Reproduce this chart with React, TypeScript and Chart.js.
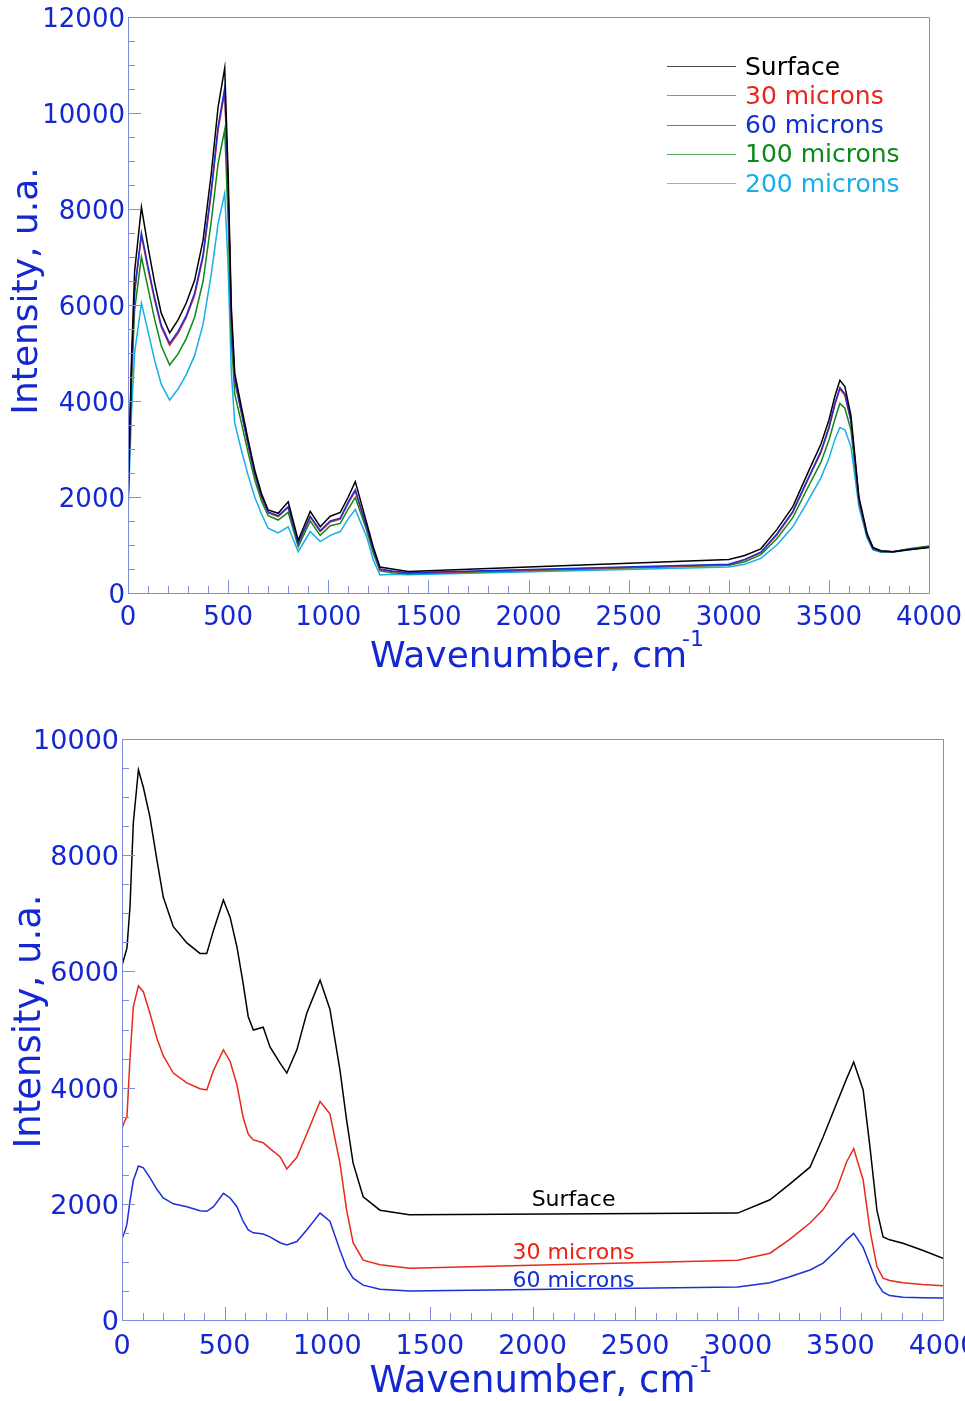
import React, { useEffect, useRef } from 'react';
import { Chart, registerables } from 'chart.js';

Chart.register(...registerables);

const FONT = '"DejaVu Sans", "Liberation Sans", sans-serif';
const AXIS_TEXT = '#1428d2';
const FRAME = '#7f8ce0';

const COLORS = {
  surface: '#000000',
  m30: '#e8281c',
  m60: '#1c2fd6',
  m100: '#0b8a18',
  m200: '#18aee8',
};

// ---- Upper panel: five depths, wavenumber (cm-1) vs intensity ----
const TOP_X = [
  0, 17, 33, 67, 100, 133, 166, 208, 250, 291, 333, 375, 416, 450, 483, 500, 516, 533, 566, 600,
  633, 666, 700, 750, 800, 850, 910, 960, 1010, 1060, 1100, 1135, 1192, 1225, 1258, 1320, 1400,
  3000, 3080, 3160, 3240, 3320, 3400, 3460, 3500, 3530, 3555, 3580, 3610, 3650, 3690, 3720, 3760, 3820, 3900, 4000,
];
const TOP_SURFACE = [
  1900, 4800, 6700, 8040, 7210, 6460, 5830, 5420, 5690, 6040, 6520, 7350, 8750, 10130, 10940, 8750, 5960, 4580, 3880, 3190,
  2560, 2080, 1730, 1660, 1900, 1100, 1700, 1380, 1600, 1680, 2000, 2320, 1460, 960, 540, 500, 450,
  700, 780, 920, 1320, 1800, 2550, 3100, 3600, 4100, 4430, 4300, 3700, 2000, 1250, 950, 880, 860, 900, 950,
];
const TOP_30 = [
  1820, 4550, 6250, 7440, 6750, 6100, 5540, 5160, 5410, 5740, 6200, 7000, 8340, 9650, 10440, 8400, 5710, 4420, 3760, 3080,
  2470, 2000, 1670, 1590, 1780, 1030, 1580, 1280, 1480, 1540, 1870, 2120, 1360, 890, 490, 450, 410,
  590, 690, 840, 1210, 1680, 2400, 2920, 3420, 3920, 4250, 4120, 3580, 1940, 1210, 930, 870, 860, 910, 960,
];
const TOP_60 = [
  1850, 4600, 6300, 7500, 6800, 6150, 5580, 5200, 5450, 5780, 6250, 7050, 8400, 9720, 10520, 8450, 5750, 4450, 3780, 3100,
  2490, 2020, 1690, 1610, 1800, 1040, 1600, 1300, 1500, 1560, 1900, 2150, 1380, 900, 500, 460, 420,
  600, 700, 850, 1230, 1700, 2420, 2950, 3450, 3950, 4280, 4150, 3600, 1950, 1220, 930, 870, 860, 910, 960,
];
const TOP_100 = [
  1800, 4300, 5900, 7000, 6350, 5700, 5150, 4750, 4980, 5300, 5750, 6500, 7750, 8950, 9650, 7800, 5300, 4150, 3550, 2920,
  2360, 1920, 1610, 1520, 1680, 960, 1500, 1200, 1400, 1450, 1750, 1990, 1300, 830, 460, 420, 400,
  580, 650, 800, 1130, 1570, 2240, 2720, 3180, 3620, 3950, 3850, 3400, 1900, 1200, 920, 860, 860, 920, 980,
];
const TOP_200 = [
  1700, 3700, 5000, 6040, 5450, 4850, 4350, 4020, 4250, 4550, 4950, 5600, 6650, 7700, 8330, 6800, 4600, 3540, 2980, 2450,
  2000, 1650, 1350, 1250, 1380, 860, 1280, 1070, 1200, 1280, 1550, 1740, 1170, 690, 375, 390, 380,
  540, 600, 720, 1000, 1380, 1950, 2400, 2800, 3200, 3450, 3400, 3050, 1800, 1150, 900, 850, 850, 900, 960,
];
const TOP_X_TICKS = [0, 500, 1000, 1500, 2000, 2500, 3000, 3500, 4000];
const TOP_Y_TICKS = [0, 2000, 4000, 6000, 8000, 10000, 12000];

// ---- Lower panel: three depths ----
const BOT_X = [
  0, 16, 24, 39, 55, 80, 104, 136, 170, 201, 250, 316, 380, 413, 446, 494, 527, 560, 590, 615,
  640, 688, 721, 770, 803, 852, 900, 965, 1013, 1062, 1094, 1126, 1175, 1257, 1400,
  3000, 3157, 3250, 3352, 3416, 3482, 3530, 3565, 3611, 3644, 3678, 3708, 3740, 3805, 3900, 4000,
];
const BOT_SURFACE = [
  6100, 6300, 6400, 7110, 8550, 9470, 9170, 8660, 7920, 7280, 6770, 6490, 6310, 6310, 6710, 7230, 6930, 6420, 5800, 5220,
  4990, 5040, 4700, 4420, 4250, 4650, 5280, 5850, 5350, 4300, 3450, 2700, 2120, 1890, 1810,
  1840, 2070, 2330, 2630, 3150, 3730, 4150, 4440, 3960, 2980, 1890, 1430, 1380, 1320, 1200, 1060,
];
const BOT_30 = [
  3300, 3450, 3490, 4500, 5390, 5750, 5650, 5280, 4850, 4550, 4250, 4080, 3980, 3960, 4300, 4650, 4450, 4050, 3490, 3200,
  3100, 3050, 2950, 2810, 2600, 2800, 3200, 3760, 3550, 2700, 1900, 1330, 1030, 950, 890,
  1030, 1150, 1380, 1670, 1900, 2250, 2720, 2950, 2410, 1550, 920, 720, 680, 640, 610, 590,
];
const BOT_60 = [
  1400, 1550, 1650, 2050, 2400, 2650, 2620, 2450, 2250, 2100, 2000, 1950, 1880, 1870, 1950, 2180, 2100, 1950, 1700, 1550,
  1500, 1480, 1430, 1330, 1290, 1350, 1550, 1840, 1700, 1200, 900, 720, 600, 530, 500,
  570, 640, 740, 860, 980, 1200, 1380, 1490, 1250, 950, 640, 480, 420, 390, 385, 380,
];
const BOT_X_TICKS = [0, 500, 1000, 1500, 2000, 2500, 3000, 3500, 4000];
const BOT_Y_TICKS = [0, 2000, 4000, 6000, 8000, 10000];
// Inline series names: [label, wavenumber, intensity]
const BOT_LABELS: [string, number, number][] = [
  ['Surface', 2200, 2065],
  ['30 microns', 2200, 1153],
  ['60 microns', 2200, 671],
];

type Series = { label: string; values: number[]; color: string; order: number };
type Panel = {
  x: number[];
  series: Series[];
  xTicks: number[];
  yTicks: number[];
  yMax: number;
  top: number;
  right: number;
  yAxisWidth: number;
  xAxisHeight: number;
  tickSize: number;
  xTickPad: number;
  titleSize: number;
  yTitleX: number;
  yTitleShift: number;
  xTitleBaseline: number;
  supSize: number;
  supRise: number;
  lineWidth: number;
  extra: any;
};

// Frame, inward tick marks and axis titles
function axesPlugin(p: Panel) {
  return {
    id: 'axesFrame',
    afterDatasetsDraw(chart: any) {
      const { ctx, chartArea: a, scales } = chart;
      const xs = scales.x;
      const ys = scales.y;
      ctx.save();
      ctx.strokeStyle = FRAME;
      ctx.lineWidth = 1;
      ctx.beginPath();
      ctx.rect(Math.round(a.left) + 0.5, Math.round(a.top) + 0.5, Math.round(a.right - a.left), Math.round(a.bottom - a.top));
      for (let v = 0; v <= 4000; v += 100) {
        const px = Math.round(xs.getPixelForValue(v)) + 0.5;
        const len = v % 500 === 0 ? 13 : 7;
        ctx.moveTo(px, a.bottom);
        ctx.lineTo(px, a.bottom - len);
      }
      for (let v = 0; v <= p.yMax; v += 500) {
        const py = Math.round(ys.getPixelForValue(v)) + 0.5;
        const len = v % 2000 === 0 ? 13 : 7;
        ctx.moveTo(a.left, py);
        ctx.lineTo(a.left + len, py);
      }
      ctx.stroke();
      ctx.restore();
    },
    afterDraw(chart: any) {
      const { ctx, chartArea: a } = chart;
      ctx.save();
      ctx.fillStyle = AXIS_TEXT;
      ctx.font = `${p.titleSize}px ${FONT}`;
      ctx.translate(p.yTitleX, (a.top + a.bottom) / 2 + p.yTitleShift);
      ctx.rotate(-Math.PI / 2);
      ctx.textAlign = 'center';
      ctx.textBaseline = 'middle';
      ctx.fillText('Intensity, u.a.', 0, 0);
      ctx.restore();

      ctx.save();
      ctx.fillStyle = AXIS_TEXT;
      ctx.font = `${p.titleSize}px ${FONT}`;
      ctx.textAlign = 'center';
      ctx.textBaseline = 'alphabetic';
      const title = 'Wavenumber, cm';
      const cx = (a.left + a.right) / 2;
      ctx.fillText(title, cx, p.xTitleBaseline);
      const w = ctx.measureText(title).width;
      ctx.font = `${p.supSize}px ${FONT}`;
      ctx.textAlign = 'left';
      ctx.fillText('-1', cx + w / 2 - 5, p.xTitleBaseline - p.supRise);
      ctx.restore();

      if (p.extra) p.extra(chart);
    },
  };
}

function makePanel(canvas: HTMLCanvasElement, p: Panel) {
  const datasets = p.series.map((s) => ({
    label: s.label,
    data: p.x.map((x, i) => ({ x, y: s.values[i] })),
    borderColor: s.color,
    backgroundColor: s.color,
    borderWidth: p.lineWidth,
    pointRadius: 0,
    tension: 0,
    fill: false,
    order: s.order,
  }));
  return new Chart(canvas, {
    type: 'line',
    data: { datasets },
    options: {
      animation: false,
      responsive: false,
      events: [],
      layout: { padding: { top: p.top, right: p.right, left: 0, bottom: 0 }, autoPadding: false },
      plugins: { legend: { display: false }, tooltip: { enabled: false } },
      scales: {
        x: {
          type: 'linear',
          min: 0,
          max: 4000,
          grid: { display: false, drawTicks: false },
          border: { display: false },
          afterBuildTicks: (s: any) => {
            s.ticks = p.xTicks.map((v) => ({ value: v }));
          },
          ticks: {
            autoSkip: false,
            maxRotation: 0,
            color: AXIS_TEXT,
            padding: p.xTickPad,
            font: { family: FONT, size: p.tickSize },
            callback: (v: any) => String(v),
          },
          afterFit: (s: any) => {
            s.height = p.xAxisHeight;
            s.paddingLeft = 0;
            s.paddingRight = 0;
          },
        },
        y: {
          type: 'linear',
          min: 0,
          max: p.yMax,
          grid: { display: false, drawTicks: false },
          border: { display: false },
          afterBuildTicks: (s: any) => {
            s.ticks = p.yTicks.map((v) => ({ value: v }));
          },
          ticks: {
            autoSkip: false,
            color: AXIS_TEXT,
            padding: 3,
            labelOffset: 3,
            font: { family: FONT, size: p.tickSize },
            callback: (v: any) => String(v),
          },
          afterFit: (s: any) => {
            s.width = p.yAxisWidth;
            s.paddingTop = 0;
            s.paddingBottom = 0;
          },
        },
      },
    },
    plugins: [axesPlugin(p)],
  } as any);
}

const TOP_SERIES: Series[] = [
  { label: 'Surface', values: TOP_SURFACE, color: COLORS.surface, order: 0 },
  { label: '30 microns', values: TOP_30, color: COLORS.m30, order: 2 },
  { label: '60 microns', values: TOP_60, color: COLORS.m60, order: 1 },
  { label: '100 microns', values: TOP_100, color: COLORS.m100, order: 3 },
  { label: '200 microns', values: TOP_200, color: COLORS.m200, order: 4 },
];

const BOT_SERIES: Series[] = [
  { label: 'Surface', values: BOT_SURFACE, color: COLORS.surface, order: 0 },
  { label: '30 microns', values: BOT_30, color: COLORS.m30, order: 1 },
  { label: '60 microns', values: BOT_60, color: COLORS.m60, order: 2 },
];

// Legend block in the upper-right corner of the upper panel
function topLegend(chart: any) {
  const { ctx } = chart;
  ctx.save();
  ctx.font = `25px ${FONT}`;
  ctx.textAlign = 'left';
  ctx.textBaseline = 'middle';
  TOP_SERIES.forEach((s, i) => {
    const y = 66 + i * 29.25;
    ctx.strokeStyle = s.color;
    ctx.globalAlpha = 0.7;
    ctx.lineWidth = 1;
    ctx.beginPath();
    ctx.moveTo(667, Math.round(y) + 0.5);
    ctx.lineTo(736, Math.round(y) + 0.5);
    ctx.stroke();
    ctx.globalAlpha = 1;
    ctx.fillStyle = s.color === COLORS.m60 ? '#1030d0' : s.color;
    ctx.fillText(s.label, 745, y + 2);
  });
  ctx.restore();
}

// Series names written above the straight segments of the lower panel
function bottomLabels(chart: any) {
  const { ctx, scales } = chart;
  ctx.save();
  ctx.font = `22px ${FONT}`;
  ctx.textAlign = 'center';
  ctx.textBaseline = 'middle';
  BOT_LABELS.forEach(([text, x, y], i) => {
    ctx.fillStyle = [COLORS.surface, '#f02010', '#1030d0'][i];
    ctx.fillText(text, scales.x.getPixelForValue(x), scales.y.getPixelForValue(y));
  });
  ctx.restore();
}

const TOP_PANEL: Panel = {
  x: TOP_X,
  series: TOP_SERIES,
  xTicks: TOP_X_TICKS,
  yTicks: TOP_Y_TICKS,
  yMax: 12000,
  top: 17,
  right: 36,
  yAxisWidth: 128,
  xAxisHeight: 107,
  tickSize: 26,
  xTickPad: 10,
  titleSize: 36,
  yTitleX: 28,
  yTitleShift: -14,
  xTitleBaseline: 667,
  supSize: 22,
  supRise: 21,
  lineWidth: 1.5,
  extra: topLegend,
};

const BOT_PANEL: Panel = {
  x: BOT_X,
  series: BOT_SERIES,
  xTicks: BOT_X_TICKS,
  yTicks: BOT_Y_TICKS,
  yMax: 10000,
  top: 39,
  right: 22,
  yAxisWidth: 122,
  xAxisHeight: 81,
  tickSize: 27,
  xTickPad: 11,
  titleSize: 37,
  yTitleX: 30,
  yTitleShift: -8,
  xTitleBaseline: 692,
  supSize: 22,
  supRise: 20,
  lineWidth: 1.5,
  extra: bottomLabels,
};

export default function App() {
  const topRef = useRef<HTMLCanvasElement>(null);
  const botRef = useRef<HTMLCanvasElement>(null);

  useEffect(() => {
    const charts = [makePanel(topRef.current!, TOP_PANEL), makePanel(botRef.current!, BOT_PANEL)];
    return () => charts.forEach((c) => c.destroy());
  }, []);

  return (
    <div style={{ position: 'absolute', left: 0, top: 0, width: 965, height: 1401, background: '#ffffff' }}>
      <canvas ref={topRef} width={965} height={700} style={{ display: 'block' }} />
      <canvas ref={botRef} width={965} height={701} style={{ display: 'block' }} />
    </div>
  );
}
